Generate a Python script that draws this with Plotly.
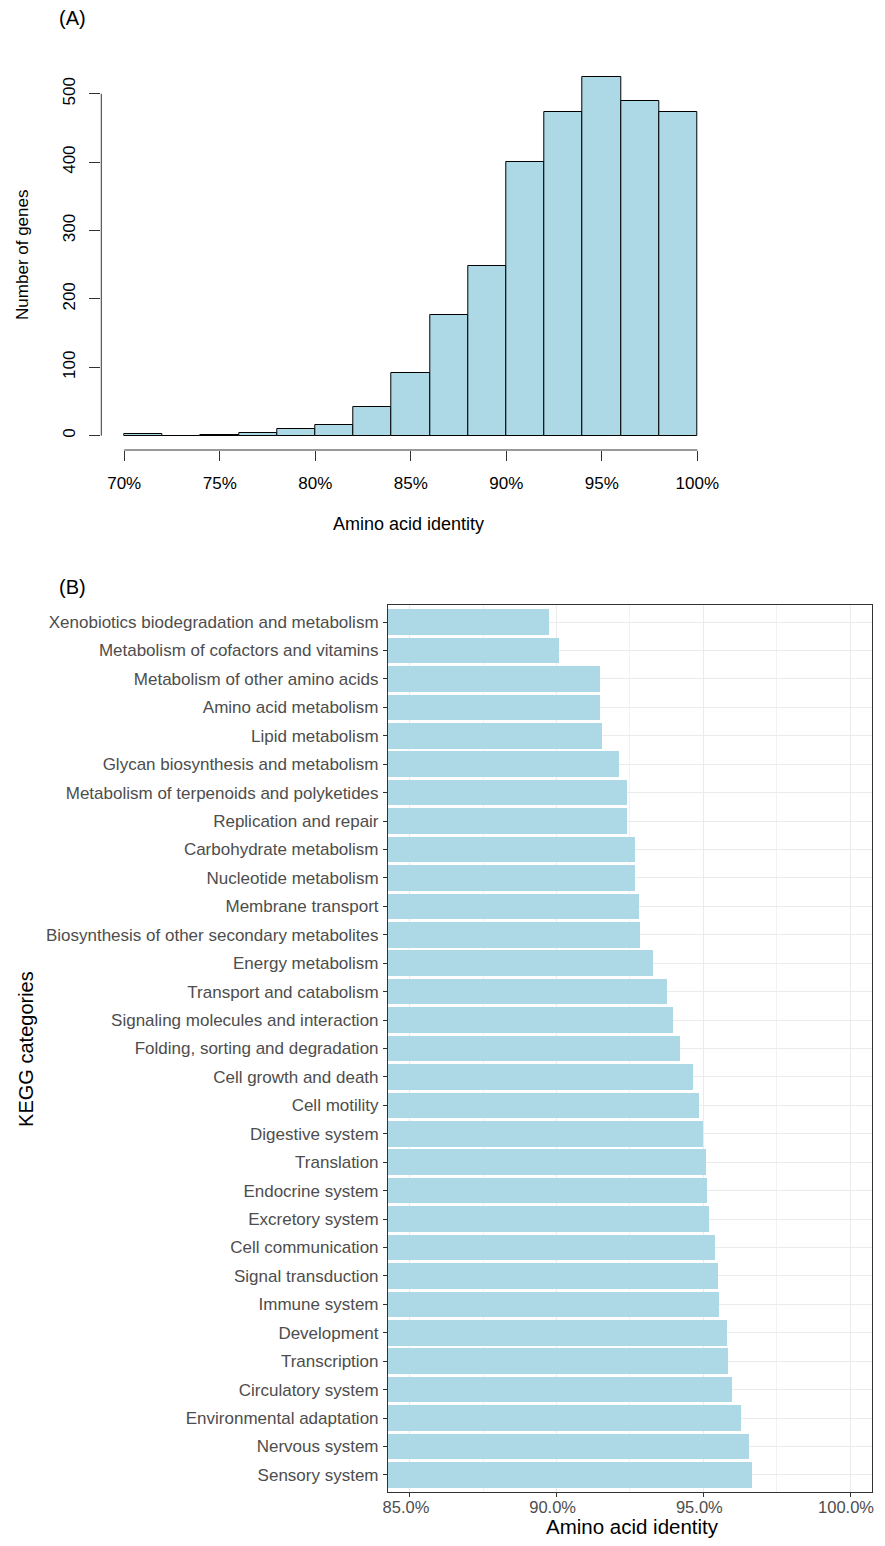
import plotly.graph_objects as go

# page is 885x1546; the figure sits inside the default 8px body margin
PAGE_W, PAGE_H = 885, 1546
OFF = 8
W, H = PAGE_W - 2 * OFF, PAGE_H - 2 * OFF

# ---- Panel A data: histogram of amino acid identity (2% bins) ----
bin_left = [70, 72, 74, 76, 78, 80, 82, 84, 86, 88, 90, 92, 94, 96, 98]
bin_counts = [2, 0, 1, 4, 10, 15, 42, 91, 176, 248, 400, 474, 524, 489, 473]
bin_width = 2
a_xticks = [70, 75, 80, 85, 90, 95, 100]
a_xticklabels = ["70%", "75%", "80%", "85%", "90%", "95%", "100%"]
a_yticks = [0, 100, 200, 300, 400, 500]

# ---- Panel B data: KEGG categories mean identity (%) ----
categories = [
    "Xenobiotics biodegradation and metabolism",
    "Metabolism of cofactors and vitamins",
    "Metabolism of other amino acids",
    "Amino acid metabolism",
    "Lipid metabolism",
    "Glycan biosynthesis and metabolism",
    "Metabolism of terpenoids and polyketides",
    "Replication and repair",
    "Carbohydrate metabolism",
    "Nucleotide metabolism",
    "Membrane transport",
    "Biosynthesis of other secondary metabolites",
    "Energy metabolism",
    "Transport and catabolism",
    "Signaling molecules and interaction",
    "Folding, sorting and degradation",
    "Cell growth and death",
    "Cell motility",
    "Digestive system",
    "Translation",
    "Endocrine system",
    "Excretory system",
    "Cell communication",
    "Signal transduction",
    "Immune system",
    "Development",
    "Transcription",
    "Circulatory system",
    "Environmental adaptation",
    "Nervous system",
    "Sensory system",
]
identity = [
    89.74, 90.08, 91.47, 91.47, 91.53, 92.14, 92.38, 92.41, 92.68, 92.68,
    92.79, 92.85, 93.29, 93.77, 93.97, 94.21, 94.65, 94.85, 94.99, 95.09,
    95.12, 95.19, 95.39, 95.49, 95.53, 95.80, 95.83, 95.96, 96.27, 96.54,
    96.65,
]
b_xticks = [85, 90, 95, 100]
b_xticklabels = ["85.0%", "90.0%", "95.0%", "100.0%"]
b_minor = [87.5, 92.5, 97.5]

FONT = "Liberation Sans, Arial, Helvetica, sans-serif"
LB = "#ADD8E6"


def px_x(p):
    return (p - OFF) / W


def px_y(p):
    return 1 - (p - OFF) / H


fig = go.Figure()

# Panel A histogram
fig.add_trace(go.Bar(
    x=[b + bin_width / 2 for b in bin_left], y=bin_counts, width=bin_width,
    marker=dict(color=LB, line=dict(color="black", width=1)),
    xaxis="x", yaxis="y", showlegend=False, hoverinfo="x+y",
))

# Panel B horizontal bars
fig.add_trace(go.Bar(
    y=categories, x=identity, orientation="h", width=0.9,
    marker=dict(color=LB, line=dict(width=0)),
    xaxis="x2", yaxis="y2", showlegend=False,
))

fig.update_layout(
    width=W, height=H, autosize=False,
    margin=dict(l=0, r=0, t=0, b=0),
    paper_bgcolor="white", plot_bgcolor="white",
    font=dict(family=FONT, color="black"),
    bargap=0,
    xaxis=dict(
        domain=[px_x(97), px_x(721)], anchor="y",
        range=[68.8, 101.2], showgrid=False, zeroline=False, showline=False,
        tickmode="array", tickvals=a_xticks, ticktext=a_xticklabels,
        ticks="outside", ticklen=10, tickcolor="#333333", tickwidth=1,
        ticklabelstandoff=8,
        tickfont=dict(size=17, color="black"),
    ),
    yaxis=dict(
        domain=[px_y(450), px_y(63)], anchor="x",
        range=[-21, 545], showgrid=False, zeroline=False, showline=False,
        tickmode="array", tickvals=a_yticks, tickangle=-90,
        ticks="outside", ticklen=11, tickcolor="#333333", tickwidth=1,
        ticklabelstandoff=7,
        tickfont=dict(size=17, color="black"),
    ),
    xaxis2=dict(
        domain=[px_x(386), px_x(874)], anchor="y2",
        range=[84.25, 100.75], zeroline=False,
        showline=True, mirror=True, linecolor="#333333", linewidth=1,
        showgrid=True, gridcolor="#EBEBEB", gridwidth=1,
        tickmode="array", tickvals=b_xticks, ticktext=b_xticklabels,
        ticks="outside", ticklen=4, tickcolor="#333333", tickwidth=1,
        ticklabelstandoff=-4, ticklabelshift=-4,
        tickfont=dict(size=16.5, color="#4D4D4D"),
        minor=dict(tickmode="array", tickvals=b_minor, showgrid=True,
                   gridcolor="#F2F2F2", gridwidth=1, ticks=""),
    ),
    yaxis2=dict(
        domain=[px_y(1492), px_y(605)], anchor="x2",
        type="category", categoryorder="array", categoryarray=categories,
        range=[len(categories) - 0.4, -0.6], zeroline=False,
        showline=True, mirror=True, linecolor="#333333", linewidth=1,
        showgrid=True, gridcolor="#EBEBEB", gridwidth=1,
        ticks="outside", ticklen=4, tickcolor="#333333", tickwidth=1,
        ticklabelstandoff=1,
        tickfont=dict(size=17, color="#4D4D4D"),
    ),
)

# R-style axis lines for panel A spanning first to last tick
fig.add_shape(type="line", xref="x", yref="y domain",
              x0=a_xticks[0], x1=a_xticks[-1], y0=0, y1=0,
              line=dict(color="#333333", width=1))
fig.add_shape(type="line", xref="x domain", yref="y",
              x0=0, x1=0, y0=a_yticks[0], y1=a_yticks[-1],
              line=dict(color="#333333", width=1))

ann = [
    dict(text="(A)", x=68, y=18, size=20, angle=0),
    dict(text="(B)", x=68, y=587, size=20, angle=0),
    dict(text="Number of genes", x=18, y=255, size=17, angle=-90),
    dict(text="Amino acid identity", x=407, y=524, size=18, angle=0),
    dict(text="KEGG categories", x=21, y=1049, size=20, angle=-90),
    dict(text="Amino acid identity", x=633, y=1526, size=20.5, angle=0),
]
for a in ann:
    fig.add_annotation(
        text=a["text"], x=px_x(a["x"]), y=px_y(a["y"]),
        xref="paper", yref="paper", xanchor="center", yanchor="middle",
        showarrow=False, textangle=a["angle"],
        font=dict(size=a["size"], color="black", family=FONT),
    )

fig.write_html("out.html", config={"displayModeBar": False})
